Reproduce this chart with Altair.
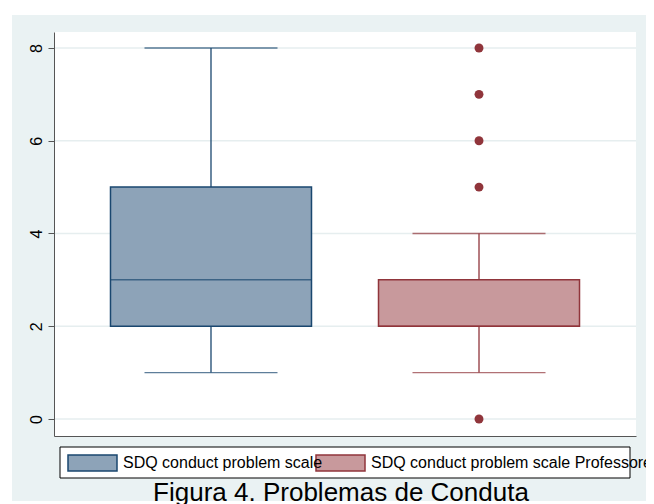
import altair as alt
import pandas as pd

# ---- data ----
groups = ["SDQ conduct problem scale", "SDQ conduct problem scale Professores"]
whisker_low = [1, 1]
q1 = [2, 2]
median = [3, 2]
q3 = [5, 3]
whisker_high = [8, 4]
outlier_group = ["SDQ conduct problem scale Professores"] * 5
outlier_value = [0, 5, 6, 7, 8]
y_ticks = [0, 2, 4, 6, 8]
title_text = "Figura 4. Problemas de Conduta"

fill_colors = ["#8DA3B8", "#C8999C"]
stroke_colors = ["#1A476F", "#90353B"]

W, H = 582, 404
FONT = "Liberation Sans"

boxes = pd.DataFrame({
    "group": groups, "g2": groups, "low": whisker_low, "q1": q1,
    "median": median, "q3": q3, "high": whisker_high,
})
outliers = pd.DataFrame({"group": outlier_group, "value": outlier_value})
ticks = pd.DataFrame({"v": y_ticks})
one = pd.DataFrame({"k": [0]})

yscale = alt.Scale(domain=[-0.3666, 8.345], nice=False, zero=False)
yaxis = alt.Axis(values=y_ticks, grid=False, labelAngle=270, labelFontSize=16,
                 labelFont=FONT, labelColor="black", tickSize=6, tickColor="#555555",
                 domainColor="#555555", title=None, labelPadding=4, zindex=1,
                 labelAlign="center", labelBaseline="bottom")


def Y(field):
    return alt.Y(f"{field}:Q", scale=yscale, axis=yaxis, title=None)


xscale = alt.Scale(domain=groups, paddingInner=0.25, paddingOuter=0.2108)
X = alt.X("group:N", scale=xscale,
          axis=alt.Axis(labels=False, ticks=False, title=None, domainColor="#555555",
                        grid=False, zindex=1))

stroke_scale = alt.Scale(range=stroke_colors)
fill_scale = alt.Scale(domain=groups, range=fill_colors)

common = dict(title=None, orient="none", legendY=405.5, direction="horizontal",
              labelFontSize=16, labelFont=FONT, labelColor="black",
              labelLimit=0, labelOffset=5, padding=0, symbolOpacity=1,
              symbolType="M-1,-0.3265H1V0.3265H-1Z", symbolSize=2401,
              symbolStrokeWidth=1.5)
legend_fill = alt.Legend(values=[groups[0]], legendX=13,
                         symbolStrokeColor=stroke_colors[0], **common)
legend_stroke = alt.Legend(values=[groups[1]], legendX=261,
                           symbolFillColor=fill_colors[1], **common)


def S():
    return alt.Stroke("g2:N", scale=stroke_scale, legend=legend_stroke)


bg = alt.Chart(one).mark_rect(color="#EAF2F3").encode(
    x=alt.value(-42), x2=alt.value(598), y=alt.value(-17), y2=alt.value(469))
plot_bg = alt.Chart(one).mark_rect(color="white").encode(
    x=alt.value(0), x2=alt.value(W), y=alt.value(0), y2=alt.value(H))
grid = alt.Chart(ticks).mark_rule(color="#E6EEEF", strokeWidth=1.5).encode(
    y=Y("v"), x=alt.value(0), x2=alt.value(W))

whiskers = alt.Chart(boxes).mark_rule(strokeWidth=1.3).encode(
    x=X, y=Y("low"), y2="high:Q", stroke=S())
box = alt.Chart(boxes).mark_bar(strokeWidth=1.5, opacity=1).encode(
    x=X, y=Y("q1"), y2="q3:Q",
    fill=alt.Fill("group:N", scale=fill_scale, legend=legend_fill),
    stroke=S())
med = alt.Chart(boxes).mark_tick(filled=False, thickness=0, size=201, strokeWidth=1.5).encode(
    x=X, y=Y("median"), stroke=S())
cap_lo = alt.Chart(boxes).mark_tick(filled=False, thickness=0, size=133, strokeWidth=1.3).encode(
    x=X, y=Y("low"), stroke=S())
cap_hi = alt.Chart(boxes).mark_tick(filled=False, thickness=0, size=133, strokeWidth=1.3).encode(
    x=X, y=Y("high"), stroke=S())
outl = alt.Chart(outliers).mark_circle(size=80, opacity=1, color="#90353B").encode(
    x=X, y=Y("value"))
legend_box = alt.Chart(one).mark_rect(fill="white", stroke="black", strokeWidth=1).encode(
    x=alt.value(6), x2=alt.value(576), y=alt.value(415), y2=alt.value(446))

chart = alt.layer(bg, plot_bg, grid, whiskers, box, med, cap_lo, cap_hi, outl, legend_box).properties(
    width=W, height=H,
    autosize=alt.AutoSizeParams(type="none"),
    padding={"left": 46, "top": 24, "right": 10, "bottom": 70},
    title=alt.TitleParams(title_text, orient="bottom", fontSize=26, font=FONT,
                          fontWeight="normal", color="black", offset=0, dx=-4,
                          baseline="alphabetic", anchor="middle"),
).configure(background="white").configure_view(strokeWidth=0)

chart.save("out.html", embed_options={"renderer": "svg", "actions": False})
